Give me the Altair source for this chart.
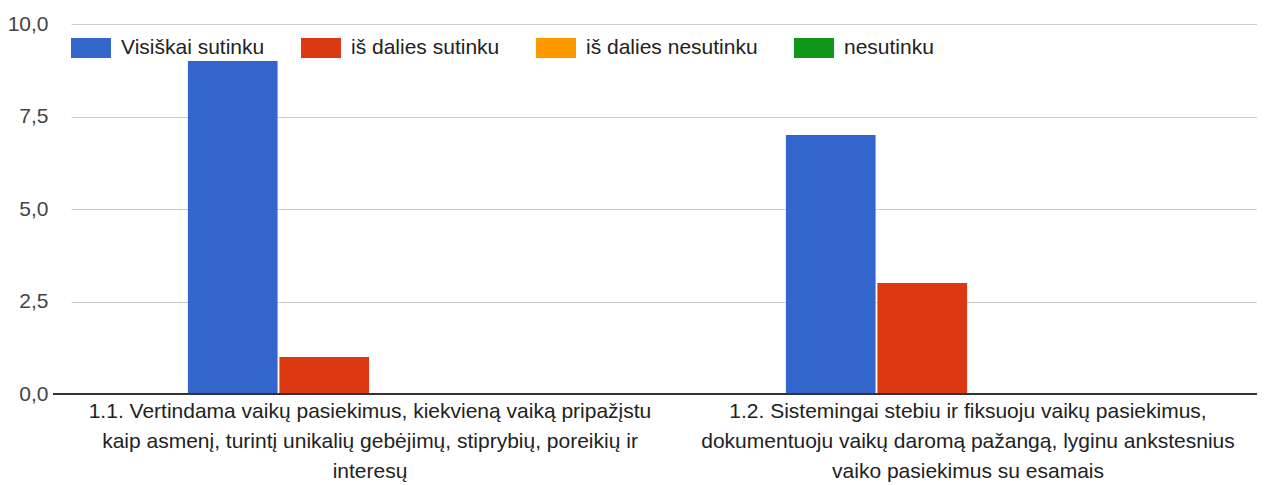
import altair as alt
import pandas as pd

categories = [
    "1.1. Vertindama vaikų pasiekimus, kiekvieną vaiką pripažįstu\nkaip asmenį, turintį unikalių gebėjimų, stiprybių, poreikių ir\ninteresų",
    "1.2. Sistemingai stebiu ir fiksuoju vaikų pasiekimus,\ndokumentuoju vaikų daromą pažangą, lyginu ankstesnius\nvaiko pasiekimus su esamais",
]
series = ["Visiškai sutinku", "iš dalies sutinku", "iš dalies nesutinku", "nesutinku"]
colors = ["#3366cc", "#dc3912", "#ff9900", "#109618"]
visiskai = [9, 7]
is_dalies_sutinku = [1, 3]
is_dalies_nesutinku = [0, 0]
nesutinku = [0, 0]
y_ticks = [0, 2.5, 5, 7.5, 10]

series_values = [visiskai, is_dalies_sutinku, is_dalies_nesutinku, nesutinku]
rows = []
for s, vals in zip(series, series_values):
    for c, v in zip(categories, vals):
        rows.append({"cat": c, "series": s, "value": v})
df = pd.DataFrame(rows)

# spacer slots on both sides of each group (no data in them)
offset_domain = ["_l"] + series + ["_r"]

FONT = "Liberation Sans"
FS = 21

bars = alt.Chart(df).mark_bar().encode(
    x=alt.X(
        "cat:N",
        sort=categories,
        scale=alt.Scale(range=[18, 1214], paddingInner=0, paddingOuter=0),
        axis=alt.Axis(
            title=None, labelAngle=0, labelExpr="split(datum.label, '\\n')",
            labelLineHeight=30, domain=False, ticks=False, labelFontSize=FS,
            labelColor="#222222", labelPadding=6, labelLimit=0,
        ),
    ),
    xOffset=alt.XOffset(
        "series:N",
        scale=alt.Scale(domain=offset_domain, paddingInner=0.02, paddingOuter=0.2775),
    ),
    y=alt.Y(
        "value:Q",
        scale=alt.Scale(domain=[0, 10]),
        axis=alt.Axis(
            values=y_ticks, title=None,
            labelExpr="replace(format(datum.value, '.1f'), '.', ',')",
            grid=True, gridColor="#cccccc", domain=False, ticks=False,
            labelFontSize=FS, labelColor="#444444", labelPadding=5,
        ),
    ),
    color=alt.Color(
        "series:N",
        sort=series,
        scale=alt.Scale(domain=series, range=colors),
        legend=alt.Legend(
            orient="none", legendX=18, legendY=4, direction="horizontal",
            title=None, symbolType="M-1,-0.5H1V0.5H-1Z", symbolSize=1600,
            symbolStrokeWidth=0, symbolOpacity=1, labelFontSize=FS,
            labelColor="#222222", columnPadding=36, labelOffset=10,
            labelLimit=0,
        ),
    ),
)

base = alt.Chart(pd.DataFrame({"y": [0]})).mark_rule(color="#333333", strokeWidth=2).encode(
    y="y:Q"
)

chart = (
    alt.layer(bars, base)
    .properties(
        width=1204, height=370,
        autosize=alt.AutoSizeParams(type="none"),
        padding={"left": 45, "top": 16, "right": 0, "bottom": 91},
    )
    .configure(font=FONT)
    .configure_view(stroke=None)
)

chart.save("out.html", embed_options={"renderer": "svg", "actions": False})
